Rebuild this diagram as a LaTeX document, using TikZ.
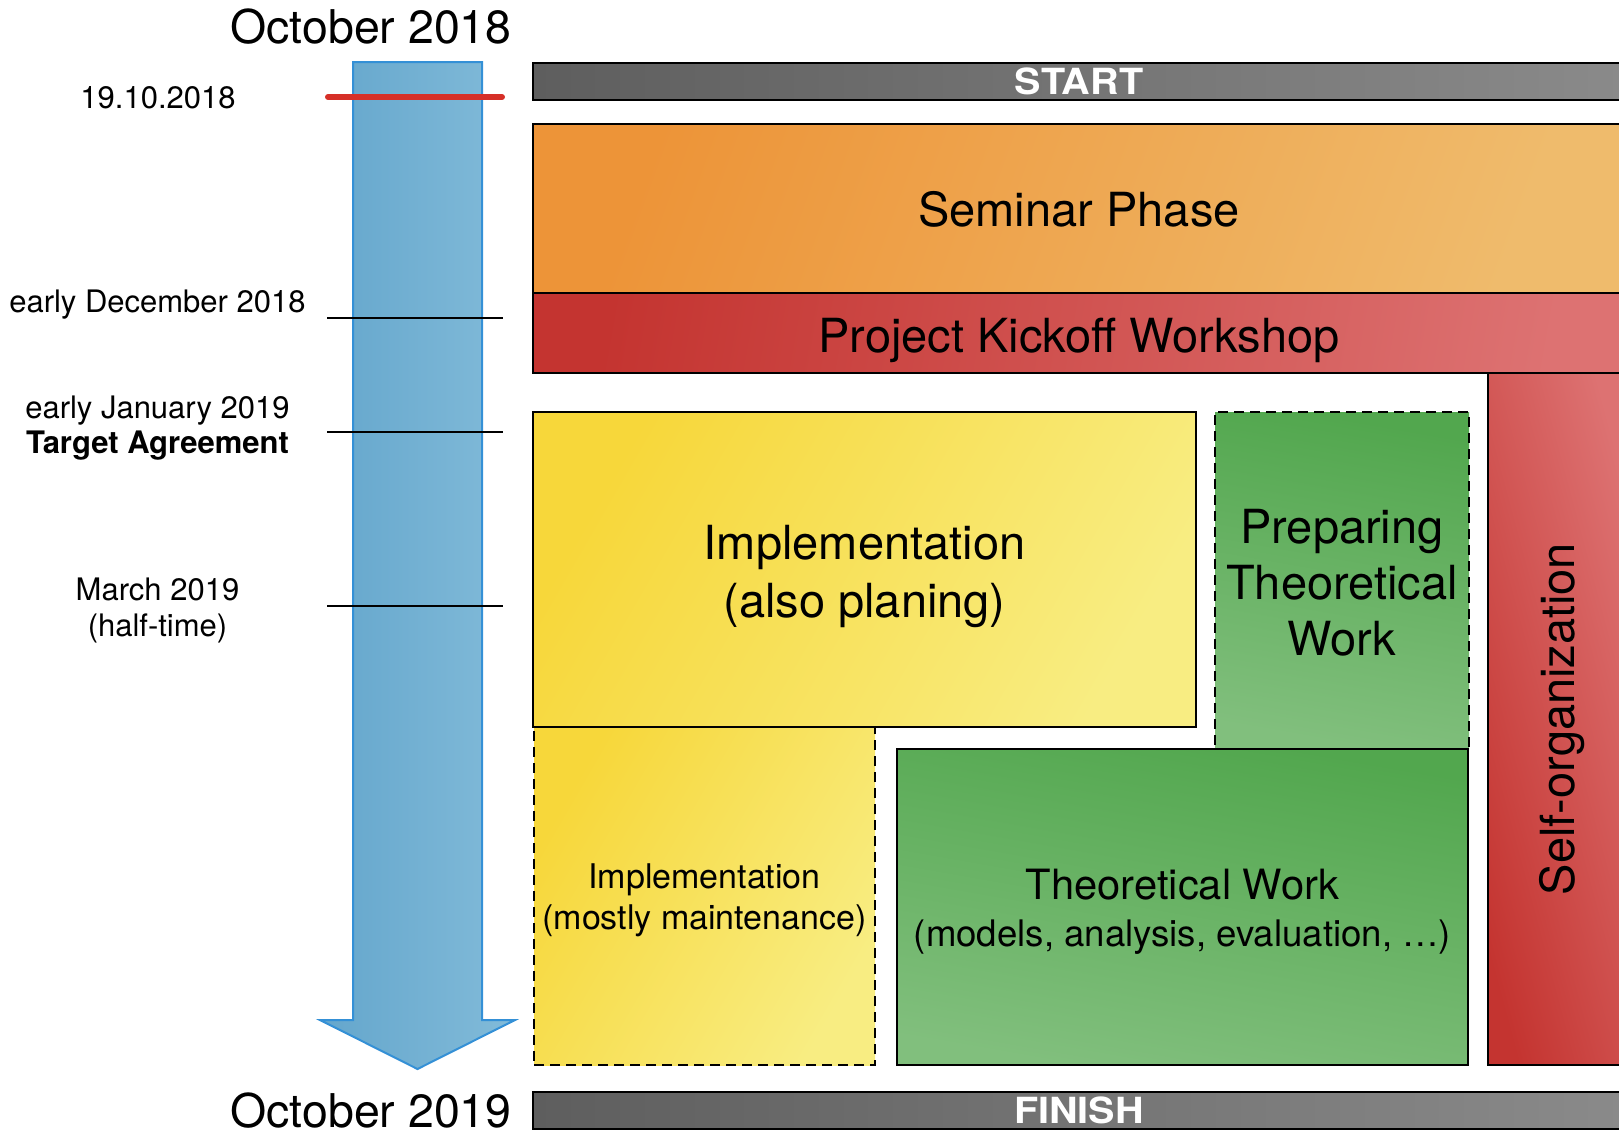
\documentclass[tikz,border=0pt]{standalone}
\usepackage{fontspec}
\setmainfont{TeX Gyre Heros}
\usepackage{graphicx}

% fill colours
\definecolor{arrowL}{RGB}{100,166,204}
\definecolor{arrowR}{RGB}{130,187,217}
\definecolor{arrowEdge}{RGB}{52,144,214}
\definecolor{milestone}{RGB}{214,48,40}
\definecolor{barL}{RGB}{94,94,94}
\definecolor{barR}{RGB}{138,138,138}
\definecolor{orangeA}{RGB}{237,148,56}
\definecolor{orangeB}{RGB}{239,187,108}
\definecolor{redA}{RGB}{196,52,48}
\definecolor{redB}{RGB}{221,114,114}
\definecolor{yellowA}{RGB}{247,215,58}
\definecolor{yellowB}{RGB}{248,237,130}
\definecolor{greenA}{RGB}{82,167,78}
\definecolor{greenB}{RGB}{129,191,125}

\begin{document}
\begin{tikzpicture}[x=1pt,y=-1pt,
  blk/.style={rectangle, draw=black, line width=2.8pt, inner sep=0pt},
  dashblk/.style={blk, dash pattern=on 10pt off 6pt},
  boxtext/.style={inner sep=0pt, align=center},
  bar/.style={blk, left color=barL, right color=barR, text=white,
    font=\fontsize{36}{36}\selectfont\bfseries,
    minimum width=1092pt, minimum height=37pt},
  orangefill/.style={left color=orangeA, right color=orangeB, shading angle=70},
  redfill/.style={left color=redA, right color=redB, shading angle=80},
  selffill/.style={left color=redA, right color=redB, shading angle=105},
  yellowfill/.style={left color=yellowA, right color=yellowB, shading angle=60},
  greenfill/.style={top color=greenA, bottom color=greenB, shading angle=-10},
  lbl/.style={anchor=base, inner sep=0pt, font=\fontsize{31}{36}\selectfont},
  month/.style={anchor=base, inner sep=0pt, font=\fontsize{46.5}{50}\selectfont},
  tick/.style={line width=2pt, draw=black},
]
\useasboundingbox (0,0) rectangle (1619,1133);
\clip (0,0) rectangle (1619,1133);

% time axis arrow
\draw[line width=2pt, draw=arrowEdge, left color=arrowL, right color=arrowR]
  (353,62) -- (482,62) -- (482,1020) -- (515,1020) -- (417.5,1069)
  -- (320,1020) -- (353,1020) -- cycle;

% milestone marks on the axis
\coordinate (m0a) at (328,97);   \coordinate (m0b) at (502,97);
\coordinate (m1a) at (327,318);  \coordinate (m1b) at (503,318);
\coordinate (m2a) at (327,432);  \coordinate (m2b) at (503,432);
\coordinate (m3a) at (327,606);  \coordinate (m3b) at (503,606);
\draw[line width=6pt, draw=milestone, line cap=round] (m0a) -- (m0b);
\draw[tick] (m1a) -- (m1b);
\draw[tick] (m2a) -- (m2b);
\draw[tick] (m3a) -- (m3b);

% axis labels
\node[month] (oct18) at (371,43) {October 2018};
\node[month] (oct19) at (371,1127) {October 2019};
\node[lbl] (d0) at (158,108) {19.10.2018};
\node[lbl] (d1) at (157.5,312) {early December 2018};
\node[lbl] (d2) at (157.5,418) {early January 2019};
\node[lbl, font=\fontsize{31}{36}\selectfont\bfseries] (d2b) at (157.5,453) {Target Agreement};
\node[lbl] (d3) at (157.5,600) {March 2019};
\node[lbl] (d3b) at (157.5,636) {(half-time)};

% start / finish bars
\node[bar] (start) at (1079,81.5) {\scalebox{1.1}[1]{START}};
\node[bar] (finish) at (1079,1110.5) {\scalebox{1.1}[1]{FINISH}};

% phase boxes
\node[blk, orangefill, minimum width=1092pt, minimum height=169pt] (seminar) at (1079,208.5) {};
\node[blk, selffill, minimum width=138pt, minimum height=692pt] (selforg) at (1557,719) {};
\node[blk, redfill, minimum width=1092pt, minimum height=80pt] (kickoff) at (1079,333) {};
\node[dashblk, yellowfill, minimum width=341pt, minimum height=338pt] (maint) at (704.5,896) {};
\node[dashblk, greenfill, minimum width=254pt, minimum height=337pt] (prep) at (1342,580.5) {};
\node[blk, yellowfill, minimum width=663pt, minimum height=315pt] (impl) at (864.5,569.5) {};
\node[blk, greenfill, minimum width=571pt, minimum height=316pt] (theory) at (1182.5,907) {};

% phase titles
\node[boxtext, font=\fontsize{47}{56}\selectfont, yshift=-1pt] (seminarT) at (seminar) {Seminar Phase};
\node[boxtext, font=\fontsize{47}{56}\selectfont, rotate=90, xshift=0pt, yshift=-5pt] (selforgT) at (selforg) {Self-organization};
\node[boxtext, font=\fontsize{47}{56}\selectfont, yshift=-7pt] (kickoffT) at (kickoff) {Project Kickoff Workshop};
\node[boxtext, font=\fontsize{34}{41}\selectfont, yshift=-4pt] (maintT) at (maint)
  {Implementation\\(mostly maintenance)};
\node[boxtext, font=\fontsize{47}{56}\selectfont, yshift=-2pt] (prepT) at (prep)
  {Preparing\\Theoretical\\Work};
\node[boxtext, font=\fontsize{47}{58}\selectfont, yshift=-7pt] (implT) at (impl)
  {Implementation\\(also planing)};
\node[boxtext, font=\fontsize{41.7}{47}\selectfont, yshift=-5pt] (theoryT) at (theory)
  {Theoretical Work\\{\fontsize{36.6}{47}\selectfont (models, analysis, evaluation, …)}};
\end{tikzpicture}
\end{document}
